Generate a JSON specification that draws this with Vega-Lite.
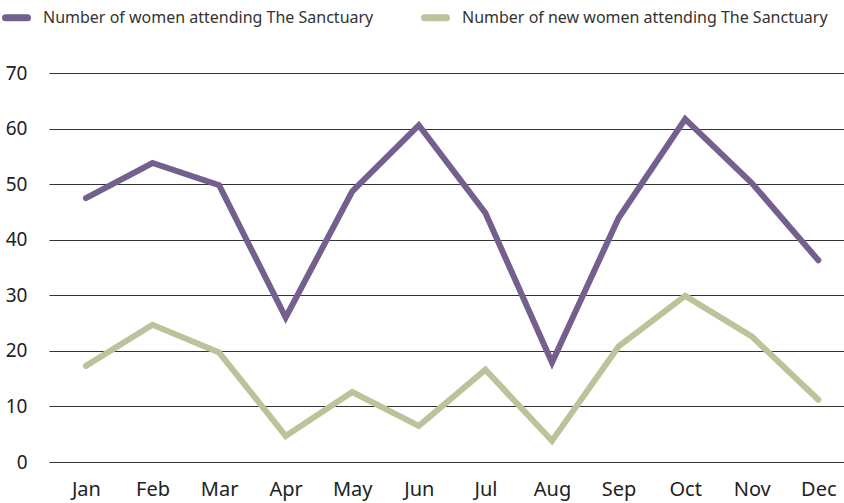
{
  "$schema": "https://vega.github.io/schema/vega-lite/v6.json",
  "width": 844,
  "height": 503,
  "autosize": {"type": "fit", "contains": "padding"},
  "padding": {"left": 5, "right": 0, "top": 64, "bottom": 4},
  "config": {
    "view": {"stroke": null},
    "font": "Noto Sans"
  },
  "data": {
    "values": [
      {"month": "Jan", "series": "Number of women attending The Sanctuary", "value": 47.5},
      {"month": "Feb", "series": "Number of women attending The Sanctuary", "value": 53.8},
      {"month": "Mar", "series": "Number of women attending The Sanctuary", "value": 49.8},
      {"month": "Apr", "series": "Number of women attending The Sanctuary", "value": 26},
      {"month": "May", "series": "Number of women attending The Sanctuary", "value": 48.7},
      {"month": "Jun", "series": "Number of women attending The Sanctuary", "value": 60.6},
      {"month": "Jul", "series": "Number of women attending The Sanctuary", "value": 44.8},
      {"month": "Aug", "series": "Number of women attending The Sanctuary", "value": 17.9},
      {"month": "Sep", "series": "Number of women attending The Sanctuary", "value": 43.9},
      {"month": "Oct", "series": "Number of women attending The Sanctuary", "value": 61.7},
      {"month": "Nov", "series": "Number of women attending The Sanctuary", "value": 50.2},
      {"month": "Dec", "series": "Number of women attending The Sanctuary", "value": 36.3},
      {"month": "Jan", "series": "Number of new women attending The Sanctuary", "value": 17.3},
      {"month": "Feb", "series": "Number of new women attending The Sanctuary", "value": 24.7},
      {"month": "Mar", "series": "Number of new women attending The Sanctuary", "value": 19.7},
      {"month": "Apr", "series": "Number of new women attending The Sanctuary", "value": 4.7},
      {"month": "May", "series": "Number of new women attending The Sanctuary", "value": 12.6},
      {"month": "Jun", "series": "Number of new women attending The Sanctuary", "value": 6.5},
      {"month": "Jul", "series": "Number of new women attending The Sanctuary", "value": 16.6},
      {"month": "Aug", "series": "Number of new women attending The Sanctuary", "value": 3.8},
      {"month": "Sep", "series": "Number of new women attending The Sanctuary", "value": 20.8},
      {"month": "Oct", "series": "Number of new women attending The Sanctuary", "value": 29.9},
      {"month": "Nov", "series": "Number of new women attending The Sanctuary", "value": 22.6},
      {"month": "Dec", "series": "Number of new women attending The Sanctuary", "value": 11.2}
    ]
  },
  "mark": {"type": "line", "strokeWidth": 6, "strokeJoin": "miter", "strokeCap": "round"},
  "encoding": {
    "x": {
      "field": "month",
      "type": "ordinal",
      "sort": ["Jan","Feb","Mar","Apr","May","Jun","Jul","Aug","Sep","Oct","Nov","Dec"],
      "scale": {"type": "point", "padding": 0.47, "align": 0.59},
      "axis": {
        "title": null,
        "labelAngle": 0,
        "domain": false,
        "ticks": false,
        "labelFontSize": 20,
        "labelColor": "#222222",
        "labelPadding": 17,
        "labelFont": "Noto Sans"
      }
    },
    "y": {
      "field": "value",
      "type": "quantitative",
      "scale": {"domain": [0, 70]},
      "axis": {
        "title": null,
        "values": [0,10,20,30,40,50,60,70],
        "domain": false,
        "ticks": false,
        "labelFontSize": 19,
        "labelColor": "#222222",
        "labelPadding": 22,
        "gridColor": "#333333",
        "gridWidth": 1.2,
        "labelFont": "Noto Sans"
      }
    },
    "color": {
      "field": "series",
      "type": "nominal",
      "sort": ["Number of women attending The Sanctuary", "Number of new women attending The Sanctuary"],
      "scale": {"range": ["#745f8e", "#bdc29b"]},
      "legend": {
        "title": null,
        "orient": "none",
        "legendX": -47,
        "legendY": -70,
        "direction": "horizontal",
        "symbolType": "stroke",
        "symbolSize": 484,
        "symbolStrokeWidth": 7,
        "labelFontSize": 16,
        "labelColor": "#333333",
        "labelLimit": 400,
        "columnPadding": 36,
        "labelOffset": 12,
        "encode": {"symbols": {"update": {"strokeCap": {"value": "round"}}}}
      }
    }
  }
}
